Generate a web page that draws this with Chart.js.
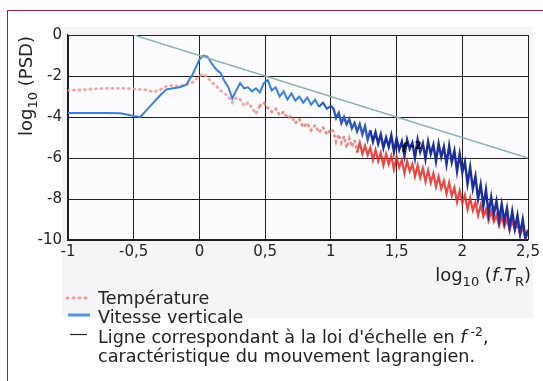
<!DOCTYPE html>
<html>
<head>
<meta charset="utf-8">
<script src="https://cdn.jsdelivr.net/npm/chart.js@4"></script>
<style>
  html, body { margin: 0; padding: 0; background: #fff; }
  #wrap { position: relative; width: 543px; height: 381px; overflow: hidden; }
  #frame { position: absolute; left: 7px; top: 10px; right: -2px; bottom: -2px;
           border-top: 1px solid #9b1f48; border-left: 1px solid #9b1f48; }
  #psd { position: absolute; left: 0; top: 0; }
</style>
</head>
<body>
<div id="wrap">
  <div id="frame"></div>
  <canvas id="psd" width="543" height="381"></canvas>
</div>
<script>
// log10(f.T_R), shared by both spectra
const logF = [
  -1, -0.9, -0.8, -0.7, -0.6, -0.5, -0.45, -0.4, -0.35, -0.3, -0.25, -0.2, -0.15, -0.1, -0.05,
  0, 0.03, 0.06, 0.1, 0.13, 0.16, 0.19, 0.22, 0.25, 0.28, 0.31, 0.34, 0.37, 0.4, 0.43, 0.46, 0.49,
  0.52, 0.55, 0.58, 0.61, 0.64, 0.67, 0.7, 0.73, 0.76, 0.79, 0.82, 0.85, 0.88, 0.91, 0.94, 0.97, 1.0,
  1.02, 1.04, 1.06, 1.08, 1.10, 1.12, 1.14, 1.16, 1.18, 1.20, 1.22, 1.24, 1.26, 1.28, 1.30,
  1.32, 1.34, 1.36, 1.38, 1.40, 1.42, 1.44, 1.46, 1.48, 1.50, 1.52, 1.54, 1.56, 1.58, 1.60,
  1.62, 1.64, 1.66, 1.68, 1.70, 1.72, 1.74, 1.76, 1.78, 1.80, 1.82, 1.84, 1.86, 1.88, 1.90,
  1.92, 1.94, 1.96, 1.98, 2.00, 2.02, 2.04, 2.06, 2.08, 2.10, 2.12, 2.14, 2.16, 2.18, 2.20,
  2.22, 2.24, 2.26, 2.28, 2.30, 2.32, 2.34, 2.36, 2.38, 2.40, 2.42, 2.44, 2.46, 2.48, 2.50
];

// log10(PSD) temperature
const psdTemp = [
  -2.7, -2.68, -2.63, -2.6, -2.6, -2.63, -2.66, -2.68, -2.78, -2.68, -2.5, -2.46, -2.5, -2.42, -2.3,
  -2.0, -1.9, -2.05, -2.35, -2.5, -2.7, -2.85, -3.0, -3.3, -3.05, -3.15, -3.45, -3.3, -3.55, -3.85, -3.45, -3.3,
  -3.55, -3.75, -3.6, -3.9, -3.75, -4.05, -3.95, -4.3, -4.1, -4.5, -4.3, -4.65, -4.4, -4.75, -4.5, -4.85, -4.6,
  -4.7, -5.2, -4.85, -5.25, -4.95, -5.5, -5.05, -5.45, -5.15, -5.7, -5.25, -5.8, -5.4, -5.85, -5.5,
  -6.1, -5.6, -6.15, -5.75, -6.35, -5.8, -6.3, -5.9, -6.55, -5.95, -6.45, -6.1, -6.75, -6.15, -6.65,
  -6.3, -6.9, -6.35, -6.95, -6.5, -7.15, -6.6, -7.2, -6.75, -7.4, -6.9, -7.5, -7.1, -7.75, -7.2,
  -7.85, -7.45, -8.15, -7.6, -8.2, -7.8, -8.5, -7.95, -8.55, -8.15, -8.8, -8.3, -8.85, -8.5, -9.05,
  -8.6, -9.1, -8.8, -9.3, -8.85, -9.35, -9.0, -9.5, -9.05, -9.5, -9.2, -9.75, -9.35, -9.95, -9.65
];

// log10(PSD) vertical velocity
const psdVel = [
  -3.8, -3.8, -3.8, -3.8, -3.82, -3.95, -4.0, -3.65, -3.3, -2.95, -2.65, -2.6, -2.55, -2.42, -1.9,
  -1.2, -1.0, -1.05, -1.45, -1.7, -1.85, -2.25, -2.55, -3.1, -2.7, -2.35, -2.6, -2.55, -2.75, -2.6, -2.8, -2.35,
  -2.2, -2.7, -2.55, -3.0, -2.75, -3.15, -2.85, -3.2, -3.0, -3.3, -3.05, -3.4, -3.15, -3.5, -3.3, -3.6, -3.45,
  -3.6, -4.05, -3.8, -4.3, -4.0, -4.35, -4.1, -4.55, -4.3, -4.7, -4.35, -4.85, -4.45, -5.1, -4.65,
  -5.2, -4.75, -5.3, -4.85, -5.5, -5.0, -5.45, -4.9, -5.7, -5.05, -5.6, -5.2, -5.9, -5.1, -5.55,
  -5.25, -6.0, -5.1, -5.7, -5.3, -6.05, -5.2, -5.8, -5.35, -6.15, -5.3, -5.95, -5.45, -6.3, -5.4,
  -6.2, -5.65, -6.65, -5.8, -6.7, -6.2, -7.25, -6.45, -7.5, -6.9, -8.0, -7.3, -8.35, -7.55, -8.7,
  -7.9, -8.75, -8.1, -9.05, -8.25, -9.1, -8.45, -9.4, -8.6, -9.45, -8.8, -9.7, -9.0, -9.9, -9.5
];

// f^-2 reference line end points
const refLineX = [-0.5, 2.5];
const refLineY = [0, -6];

const xTicks = [-1, -0.5, 0, 0.5, 1, 1.5, 2, 2.5];
const yTicks = [0, -2, -4, -6, -8, -10];

const FONT = '"DejaVu Sans", Verdana, sans-serif';

function pts(xs, ys) { return xs.map((x, i) => ({ x: x, y: ys[i] })); }

// draws a row of text pieces with their own font and vertical shift
function richText(ctx, x, y, parts) {
  let cx = x;
  parts.forEach(p => {
    ctx.font = p.font;
    ctx.fillText(p.t, cx, y + (p.dy || 0));
    cx += ctx.measureText(p.t).width;
  });
  return cx - x;
}
function richWidth(ctx, parts) {
  let w = 0;
  parts.forEach(p => { ctx.font = p.font; w += ctx.measureText(p.t).width; });
  return w;
}

const decor = {
  id: 'decor',
  beforeDraw(chart) {
    const ctx = chart.ctx, a = chart.chartArea;
    ctx.save();
    ctx.fillStyle = '#f5f5f7';
    ctx.fillRect(62, 27, 471, 291);
    ctx.fillStyle = '#fbfbfd';
    ctx.fillRect(a.left, a.top, a.right - a.left, a.bottom - a.top);
    ctx.restore();
  },
  afterDatasetsDraw(chart) {
    const ctx = chart.ctx;
    const xs = chart.scales.x, ys = chart.scales.y;
    ctx.save();
    ctx.fillStyle = '#000';
    ctx.textBaseline = 'alphabetic';
    richText(ctx, xs.getPixelForValue(1.54), ys.getPixelForValue(-5.7), [
      { t: 'f', font: 'italic bold 12px ' + FONT },
      { t: ' -2', font: 'bold 10px ' + FONT, dy: -3 }
    ]);
    ctx.restore();
  },
  afterDraw(chart) {
    const ctx = chart.ctx;
    ctx.save();
    ctx.fillStyle = '#222';
    ctx.textBaseline = 'alphabetic';

    // y axis title, rotated, top-aligned with the plot
    const yParts = [
      { t: 'log', font: '18px ' + FONT },
      { t: '10', font: '13px ' + FONT, dy: 5 },
      { t: ' (PSD)', font: '18px ' + FONT }
    ];
    const yw = richWidth(ctx, yParts);
    ctx.save();
    ctx.translate(32, 36 + yw);
    ctx.rotate(-Math.PI / 2);
    richText(ctx, 0, 0, yParts);
    ctx.restore();

    // x axis title, right-aligned
    const xParts = [
      { t: 'log', font: '18px ' + FONT },
      { t: '10', font: '13px ' + FONT, dy: 5 },
      { t: ' (', font: '18px ' + FONT },
      { t: 'f', font: 'italic 18px ' + FONT },
      { t: '.', font: '18px ' + FONT },
      { t: 'T', font: 'italic 18px ' + FONT },
      { t: 'R', font: '13px ' + FONT, dy: 5 },
      { t: ')', font: '18px ' + FONT }
    ];
    const xw = richWidth(ctx, xParts);
    richText(ctx, 531 - xw, 281, xParts);

    // legend
    const lx = 98;
    ctx.lineCap = 'round';
    ctx.strokeStyle = 'rgba(234,150,150,0.9)';
    ctx.lineWidth = 3;
    ctx.setLineDash([1, 5]);
    ctx.beginPath(); ctx.moveTo(67, 298); ctx.lineTo(90, 298); ctx.stroke();
    ctx.setLineDash([]);
    ctx.lineCap = 'butt';
    ctx.strokeStyle = '#5b95dc';
    ctx.lineWidth = 3;
    ctx.beginPath(); ctx.moveTo(68, 315); ctx.lineTo(90, 315); ctx.stroke();
    ctx.strokeStyle = '#222';
    ctx.lineWidth = 1.2;
    ctx.beginPath(); ctx.moveTo(70, 334.5); ctx.lineTo(87, 334.5); ctx.stroke();

    const LF = '17.6px ' + FONT;
    ctx.font = LF;
    ctx.fillText('Température', lx, 304);
    ctx.fillText('Vitesse verticale', lx, 323);
    richText(ctx, lx, 343, [
      { t: 'Ligne correspondant à la loi d\'échelle en ', font: LF },
      { t: 'f', font: 'italic ' + LF },
      { t: ' -2', font: '12.5px ' + FONT, dy: -7 },
      { t: ',', font: LF }
    ]);
    ctx.font = LF;
    ctx.fillText('caractéristique du mouvement lagrangien.', lx, 362);
    ctx.restore();
  }
};

function tempColor(ctx) {
  const x = ctx.p0.parsed.x;
  if (x < 0.45) return 'rgba(236,150,150,0.85)';
  if (x < 1.2) return 'rgba(228,110,100,0.75)';
  return 'rgba(232,38,30,0.85)';
}
function velColor(ctx) {
  const x = ctx.p0.parsed.x;
  if (x < 0.9) return '#3b80d8';
  if (x < 1.3) return '#2c5bbd';
  return '#1c2d9c';
}

new Chart(document.getElementById('psd'), {
  type: 'line',
  data: {
    datasets: [
      {
        label: 'Loi en f-2',
        data: pts(refLineX, refLineY),
        borderColor: '#8fb1b0',
        borderWidth: 1.5,
        pointRadius: 0
      },
      {
        label: 'Vitesse verticale',
        data: pts(logF, psdVel),
        borderColor: '#3b80d8',
        borderWidth: 2,
        pointRadius: 0,
        segment: {
          borderColor: velColor,
          borderWidth: ctx => ctx.p0.parsed.x < 1.0 ? 2 : 2.4
        }
      },
      {
        label: 'Température',
        data: pts(logF, psdTemp),
        borderColor: 'rgba(236,150,150,0.85)',
        borderWidth: 2.8,
        pointRadius: 0,
        segment: {
          borderColor: tempColor,
          borderCapStyle: ctx => ctx.p0.parsed.x < 1.2 ? 'round' : 'butt',
          borderDash: ctx => ctx.p0.parsed.x < 1.2 ? [1, 4.5] : undefined,
          borderWidth: ctx => ctx.p0.parsed.x < 1.2 ? 2.8 : 2.2
        }
      }
    ]
  },
  options: {
    responsive: false,
    animation: false,
    events: [],
    layout: { padding: { left: 0, top: 35, right: 15, bottom: 0 } },
    plugins: { legend: { display: false }, tooltip: { enabled: false } },
    scales: {
      x: {
        type: 'linear',
        min: -1,
        max: 2.5,
        afterFit: s => { s.height = 141; },
        afterBuildTicks: s => { s.ticks = xTicks.map(v => ({ value: v })); },
        ticks: {
          padding: 3,
          maxRotation: 0,
          color: '#222',
          font: { family: FONT, size: 15 },
          callback: v => String(v).replace('.', ',')
        },
        grid: { color: '#1e1e1e', lineWidth: 1, drawTicks: false },
        border: { color: '#1e1e1e', width: 1.2 }
      },
      y: {
        min: -10,
        max: 0,
        afterFit: s => { s.width = 68; },
        afterBuildTicks: s => { s.ticks = yTicks.map(v => ({ value: v })); },
        ticks: {
          padding: 6,
          color: '#222',
          font: { family: FONT, size: 15 }
        },
        grid: { color: '#1e1e1e', lineWidth: 1, drawTicks: false },
        border: { color: '#1e1e1e', width: 1.2 }
      }
    }
  },
  plugins: [decor]
});
</script>
</body>
</html>
